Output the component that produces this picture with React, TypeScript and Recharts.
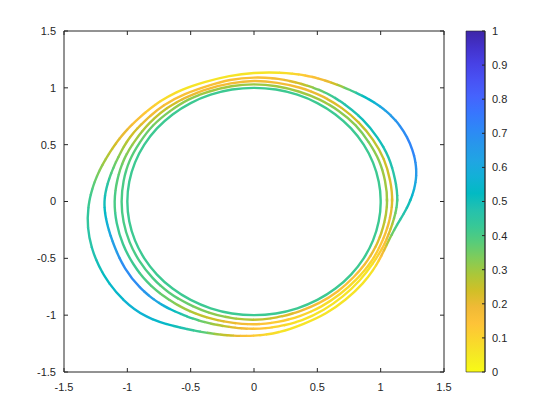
import React from "react"
import { LineChart, Line, XAxis, YAxis, BarChart, Bar } from "recharts"

// polar readings of each ring, every 10 degrees (counter-clockwise from +x)
const angles = [0, 10, 20, 30, 40, 50, 60, 70, 80, 90, 100, 110, 120, 130, 140, 150, 160, 170, 180, 190, 200, 210, 220, 230, 240, 250, 260, 270, 280, 290, 300, 310, 320, 330, 340, 350]

const ring1Radius = [1, 1, 1, 1, 1, 1, 1, 1, 1, 1, 1, 1, 1, 1, 1, 1, 1, 1, 1, 1, 1, 1, 1, 1, 1, 1, 1, 1, 1, 1, 1, 1, 1, 1, 1, 1]
const ring1Value = [0.42, 0.42, 0.42, 0.42, 0.42, 0.42, 0.42, 0.42, 0.42, 0.42, 0.42, 0.42, 0.42, 0.42, 0.42, 0.42, 0.42, 0.42, 0.42, 0.42, 0.42, 0.42, 0.42, 0.42, 0.42, 0.42, 0.42, 0.42, 0.42, 0.42, 0.42, 0.42, 0.42, 0.42, 0.42, 0.42]

const ring2Radius = [1.05, 1.05, 1.05, 1.045, 1.045, 1.04, 1.035, 1.03, 1.03, 1.03, 1.03, 1.03, 1.035, 1.035, 1.04, 1.04, 1.045, 1.045, 1.045, 1.045, 1.045, 1.045, 1.045, 1.045, 1.04, 1.04, 1.04, 1.04, 1.035, 1.03, 1.03, 1.03, 1.03, 1.035, 1.04, 1.045]
const ring2Value = [0.3, 0.3, 0.32, 0.33, 0.33, 0.32, 0.3, 0.3, 0.3, 0.3, 0.3, 0.3, 0.32, 0.33, 0.35, 0.37, 0.38, 0.4, 0.4, 0.4, 0.4, 0.4, 0.4, 0.38, 0.36, 0.33, 0.3, 0.27, 0.24, 0.2, 0.17, 0.15, 0.15, 0.18, 0.22, 0.27]

const ring3Radius = [1.09, 1.09, 1.09, 1.085, 1.08, 1.075, 1.07, 1.065, 1.06, 1.06, 1.055, 1.055, 1.06, 1.07, 1.075, 1.08, 1.09, 1.095, 1.1, 1.1, 1.1, 1.1, 1.1, 1.095, 1.09, 1.085, 1.08, 1.08, 1.075, 1.07, 1.065, 1.06, 1.06, 1.065, 1.07, 1.08]
const ring3Value = [0.22, 0.23, 0.25, 0.25, 0.25, 0.23, 0.2, 0.18, 0.17, 0.17, 0.17, 0.18, 0.2, 0.25, 0.28, 0.3, 0.34, 0.38, 0.4, 0.42, 0.42, 0.42, 0.4, 0.36, 0.3, 0.25, 0.2, 0.16, 0.12, 0.1, 0.08, 0.08, 0.08, 0.1, 0.14, 0.18]

const ring4Radius = [1.13, 1.13, 1.13, 1.125, 1.12, 1.115, 1.11, 1.1, 1.095, 1.09, 1.085, 1.08, 1.09, 1.105, 1.115, 1.13, 1.14, 1.16, 1.18, 1.175, 1.17, 1.175, 1.175, 1.165, 1.145, 1.13, 1.12, 1.12, 1.115, 1.11, 1.1, 1.09, 1.085, 1.085, 1.095, 1.11]
const ring4Value = [0.42, 0.46, 0.48, 0.5, 0.5, 0.47, 0.38, 0.25, 0.18, 0.15, 0.15, 0.15, 0.16, 0.17, 0.2, 0.25, 0.33, 0.42, 0.5, 0.56, 0.64, 0.7, 0.7, 0.6, 0.48, 0.35, 0.24, 0.15, 0.1, 0.06, 0.05, 0.05, 0.05, 0.07, 0.14, 0.28]

const ring5Radius = [1.23, 1.3, 1.33, 1.33, 1.3, 1.25, 1.21, 1.18, 1.15, 1.13, 1.12, 1.12, 1.135, 1.15, 1.165, 1.19, 1.22, 1.26, 1.3, 1.33, 1.345, 1.35, 1.345, 1.32, 1.265, 1.22, 1.195, 1.18, 1.165, 1.145, 1.135, 1.125, 1.12, 1.115, 1.115, 1.15]
const ring5Value = [0.52, 0.64, 0.72, 0.7, 0.6, 0.46, 0.2, 0.12, 0.07, 0.05, 0.05, 0.05, 0.06, 0.09, 0.15, 0.2, 0.27, 0.35, 0.42, 0.45, 0.48, 0.52, 0.55, 0.56, 0.52, 0.4, 0.25, 0.12, 0.07, 0.05, 0.05, 0.05, 0.05, 0.08, 0.25, 0.42]

const xTicks = [-1.5, -1, -0.5, 0, 0.5, 1, 1.5]
const yTicks = [-1.5, -1, -0.5, 0, 0.5, 1, 1.5]
const barTicks = [0, 0.1, 0.2, 0.3, 0.4, 0.5, 0.6, 0.7, 0.8, 0.9, 1]

// parula, every 3rd row of the 64-colour map (colorbar is flipped: 0 = yellow)
const parula = [
  [0.2422, 0.1504, 0.6603],
  [0.2647, 0.1978, 0.7952],
  [0.2783, 0.2559, 0.8991],
  [0.281, 0.3228, 0.9579],
  [0.2699, 0.3892, 0.9906],
  [0.2206, 0.4603, 0.9973],
  [0.1786, 0.5289, 0.9682],
  [0.154, 0.5902, 0.9218],
  [0.1248, 0.6459, 0.8883],
  [0.0689, 0.6948, 0.8394],
  [0.0067, 0.7312, 0.766],
  [0.1408, 0.7584, 0.6842],
  [0.2161, 0.7843, 0.5923],
  [0.3406, 0.8008, 0.4789],
  [0.5044, 0.7993, 0.348],
  [0.672, 0.7793, 0.2227],
  [0.8203, 0.7498, 0.1535],
  [0.9393, 0.7288, 0.21],
  [0.997, 0.7659, 0.2199],
  [0.9786, 0.8386, 0.1766],
  [0.9597, 0.9135, 0.1423],
  [0.9769, 0.9839, 0.0805],
]

const toRgb = (c: number[]) => `rgb(${c.map((a) => Math.round(a * 255)).join(",")})`

function colorFor(v: number) {
  const t = Math.min(1, Math.max(0, 1 - v)) * (parula.length - 1)
  const i = Math.min(parula.length - 2, Math.floor(t))
  const f = t - i
  return toRgb(parula[i].map((a, k) => a + (parula[i + 1][k] - a) * f))
}

// plot box in px, used only to estimate path length for the colour dashes
const PLOT_W = 380
const PLOT_H = 341
const SX = PLOT_W / 3
const SY = PLOT_H / 3

type Pt = { x: number; y: number; v: number }

// one smooth closed ring, painted as consecutive dashes of changing colour
function ring(radius: number[], value: number[]) {
  const n = angles.length
  const pts: Pt[] = angles.map((a, i) => {
    const rad = (a * Math.PI) / 180
    return { x: radius[i] * Math.cos(rad), y: radius[i] * Math.sin(rad), v: value[i] }
  })
  // wrap one point on each side so the spline is smooth where the ring closes
  const path = [pts[n - 1], ...pts, pts[0], pts[1]]
  const cum = [0]
  for (let i = 1; i < path.length; i++) {
    const dx = (path[i].x - path[i - 1].x) * SX
    const dy = (path[i].y - path[i - 1].y) * SY
    cum.push(cum[i - 1] + Math.hypot(dx, dy))
  }
  const total = cum[cum.length - 1]
  const pieces: { color: string; start: number; end: number }[] = []
  const SUB = 4
  for (let k = 0; k < n; k++) {
    const a = cum[k + 1]
    const b = cum[k + 2]
    const v0 = pts[k].v
    const v1 = pts[(k + 1) % n].v
    for (let s = 0; s < SUB; s++) {
      const f = (s + 0.5) / SUB
      const q = Math.round((v0 + (v1 - v0) * f) * 50) / 50
      const color = colorFor(q)
      const start = a + ((b - a) * s) / SUB
      const end = a + ((b - a) * (s + 1)) / SUB
      const last = pieces[pieces.length - 1]
      if (last && last.color === color) last.end = end
      else pieces.push({ color, start, end })
    }
  }
  pieces[pieces.length - 1].end += 3
  return {
    data: path,
    dashes: pieces.map((p) => ({
      color: p.color,
      dash: `0 ${p.start.toFixed(2)} ${(p.end - p.start + 0.6).toFixed(2)} ${(total + 200).toFixed(0)}`,
    })),
  }
}

const rings = [
  ring(ring1Radius, ring1Value),
  ring(ring2Radius, ring2Value),
  ring(ring3Radius, ring3Value),
  ring(ring4Radius, ring4Value),
  ring(ring5Radius, ring5Value),
]

const boxData = [
  { x: -1.5, y: -1.5 },
  { x: 1.5, y: 1.5 },
]

const barData = [{ name: "cb", v: 1 }]

const axisColor = "#262626"
const tickStyle = { fill: axisColor, fontSize: 11 }
const blank = () => ""

export default function App() {
  return (
    <div
      style={{
        position: "absolute",
        left: 0,
        top: 0,
        width: 560,
        height: 420,
        background: "#fff",
        fontFamily: "'Liberation Sans', Arial, sans-serif",
      }}
    >
      <div style={{ position: "absolute", left: 0, top: 0 }}>
        <LineChart width={460} height={420} margin={{ top: 30, right: 15, bottom: 16, left: 24 }}>
          <XAxis
            dataKey="x"
            type="number"
            domain={[-1.5, 1.5]}
            ticks={xTicks}
            interval={0}
            allowDataOverflow
            height={32}
            tickSize={-4}
            tickMargin={15}
            stroke={axisColor}
            tick={tickStyle}
          />
          <YAxis
            type="number"
            domain={[-1.5, 1.5]}
            ticks={yTicks}
            interval={0}
            allowDataOverflow
            width={40}
            tickSize={-4}
            tickMargin={12}
            stroke={axisColor}
            tick={tickStyle}
          />
          <XAxis
            xAxisId="top"
            dataKey="x"
            orientation="top"
            type="number"
            domain={[-1.5, 1.5]}
            ticks={xTicks}
            interval={0}
            allowDataOverflow
            height={1}
            tickSize={-4}
            tickFormatter={blank}
            stroke={axisColor}
          />
          <YAxis
            yAxisId="right"
            orientation="right"
            type="number"
            domain={[-1.5, 1.5]}
            ticks={yTicks}
            interval={0}
            allowDataOverflow
            width={1}
            tickSize={-4}
            tickFormatter={blank}
            stroke={axisColor}
          />
          <Line
            xAxisId="top"
            yAxisId="right"
            data={boxData}
            dataKey="y"
            stroke="none"
            dot={false}
            activeDot={false}
            isAnimationActive={false}
          />
          {rings.map((r, ri) =>
            r.dashes.map((d, i) => (
              <Line
                key={`${ri}-${i}`}
                data={r.data}
                dataKey="y"
                type="natural"
                stroke={d.color}
                strokeWidth={2.4}
                strokeDasharray={d.dash}
                dot={false}
                activeDot={false}
                isAnimationActive={false}
              />
            ))
          )}
        </LineChart>
      </div>
      <div style={{ position: "absolute", left: 440, top: 0 }}>
        <BarChart
          width={100}
          height={420}
          data={barData}
          margin={{ top: 31, right: 15, bottom: 48, left: 26 }}
          barCategoryGap={0}
        >
          <defs>
            <linearGradient id="parulaBar" x1="0" y1="0" x2="0" y2="1">
              {parula.map((c, i) => (
                <stop key={i} offset={`${(i / (parula.length - 1)) * 100}%`} stopColor={toRgb(c)} />
              ))}
            </linearGradient>
          </defs>
          <XAxis dataKey="name" hide />
          <YAxis
            orientation="right"
            type="number"
            domain={[0, 1]}
            ticks={barTicks}
            interval={0}
            width={40}
            tickSize={-3}
            tickMargin={10}
            stroke={axisColor}
            tick={tickStyle}
          />
          <Bar dataKey="v" fill="url(#parulaBar)" stroke={axisColor} strokeWidth={0.6} isAnimationActive={false} />
        </BarChart>
      </div>
    </div>
  )
}
